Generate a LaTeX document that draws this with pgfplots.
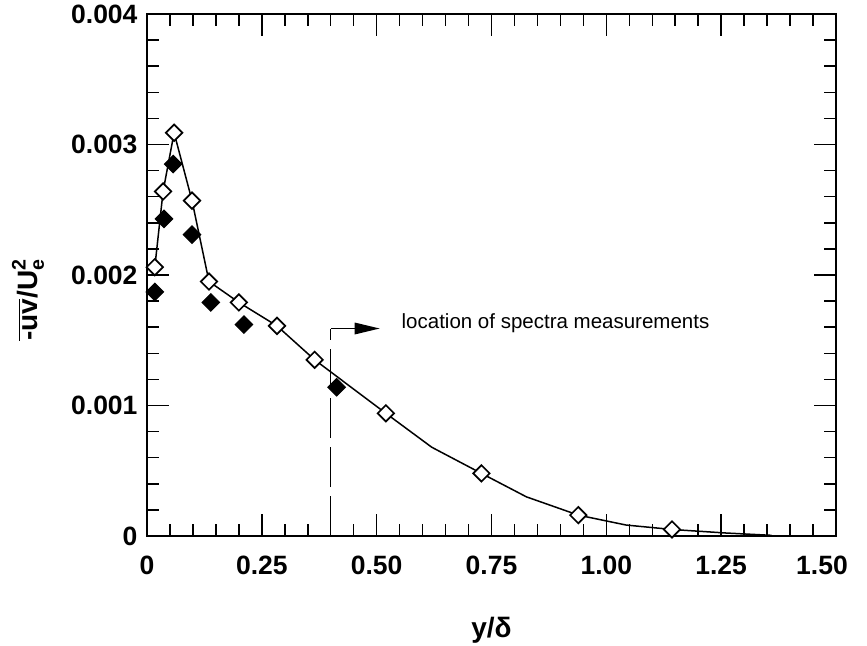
\documentclass[border=0pt]{standalone}
\usepackage{fontspec}
\setmainfont{Liberation Sans}
\usepackage{amsmath}
\usepackage{pgfplots}
\pgfplotsset{compat=1.18}

% Reynolds shear stress profile across the boundary layer
\pgfplotstableread{
x      y
0.017  0.00206
0.035  0.00264
0.059  0.00309
0.098  0.00257
0.135  0.00195
0.200  0.00179
0.283  0.00161
0.365  0.00135
0.520  0.00094
0.728  0.00048
0.939  0.00016
1.143  0.00005
}\openpts

\pgfplotstableread{
x      y
0.017  0.00187
0.037  0.00243
0.057  0.00285
0.098  0.00231
0.139  0.00179
0.211  0.00162
0.413  0.00114
}\filledpts

\pgfplotstableread{
x      y
0.017  0.00206
0.035  0.00264
0.059  0.00309
0.098  0.00257
0.135  0.00195
0.200  0.00179
0.283  0.00161
0.365  0.00135
0.520  0.00094
0.620  0.00068
0.728  0.00048
0.826  0.00030
0.939  0.00016
1.043  0.000084
1.143  0.00005
1.260  0.000023
1.360  0.000005
}\fitline

\begin{document}
\begin{tikzpicture}
\begin{axis}[
  name=ax,
  scale only axis,
  width=689pt, height=522pt,
  xmin=0, xmax=1.5, ymin=0, ymax=0.004,
  xtick={0,0.25,0.5,0.75,1,1.25,1.5},
  xticklabels={0,0.25,0.50,0.75,1.00,1.25,\hspace*{-28pt}1.50},
  ytick={0,0.001,0.002,0.003,0.004},
  yticklabels={0,0.001,0.002,0.003,0.004},
  scaled y ticks=false,
  minor x tick num=4, minor y tick num=4,
  tick align=inside,
  xtick pos=both, ytick pos=both,
  major tick length=22pt, minor tick length=12pt,
  every tick/.style={black, line width=1.5pt},
  axis line style={line width=1.8pt},
  /pgf/number format/assume math mode=true,
  tick label style={font=\fontsize{26.5}{31}\selectfont\bfseries},
  xticklabel style={yshift=-16pt},
  yticklabel style={xshift=-6pt},
  label style={font=\fontsize{28}{33}\selectfont\bfseries},
  xlabel={y/δ},
  xlabel style={at={(axis description cs:0.5,0)}, anchor=center, yshift=-94pt},
  ylabel={$\overline{\text{-uv}}\text{/U}^{\text{2}}_{\text{e}}$},
  ylabel style={at={(axis description cs:-0.1727,0.452)}, anchor=center},
  clip=false,
]
\addplot[black, line width=1.5pt, no markers] table {\fitline};
\addplot[only marks, mark=square*, mark size=6.2pt,
  mark options={rotate=45, fill=black, draw=black, line width=1pt}] table {\filledpts};
\addplot[only marks, mark=square*, mark size=5.8pt,
  mark options={rotate=45, fill=white, draw=black, line width=1.7pt}] table {\openpts};

% marker for the spectra measurement station
\draw[black, line width=1.5pt, dash pattern=on 40pt off 9pt]
  (axis cs:0.4,0) -- (axis cs:0.4,0.00159);
\draw[black, line width=1.5pt] (axis cs:0.4,0.00159) -- (axis cs:0.452,0.00159);
\fill[black] (axis cs:0.452,0.00159) ++(0,6pt) -- ++(25pt,-6pt) -- ++(-25pt,-6pt) -- cycle;
\node[anchor=west, inner sep=0pt, font=\fontsize{20.5}{24}\selectfont]
  at (axis cs:0.554,0.00163) {location of spectra measurements};
\end{axis}
\pgfresetboundingbox
\path[use as bounding box] ([shift={(-147pt,-109pt)}]ax.south west)
  rectangle ([shift={(31pt,14pt)}]ax.north east);
\end{tikzpicture}
\end{document}
